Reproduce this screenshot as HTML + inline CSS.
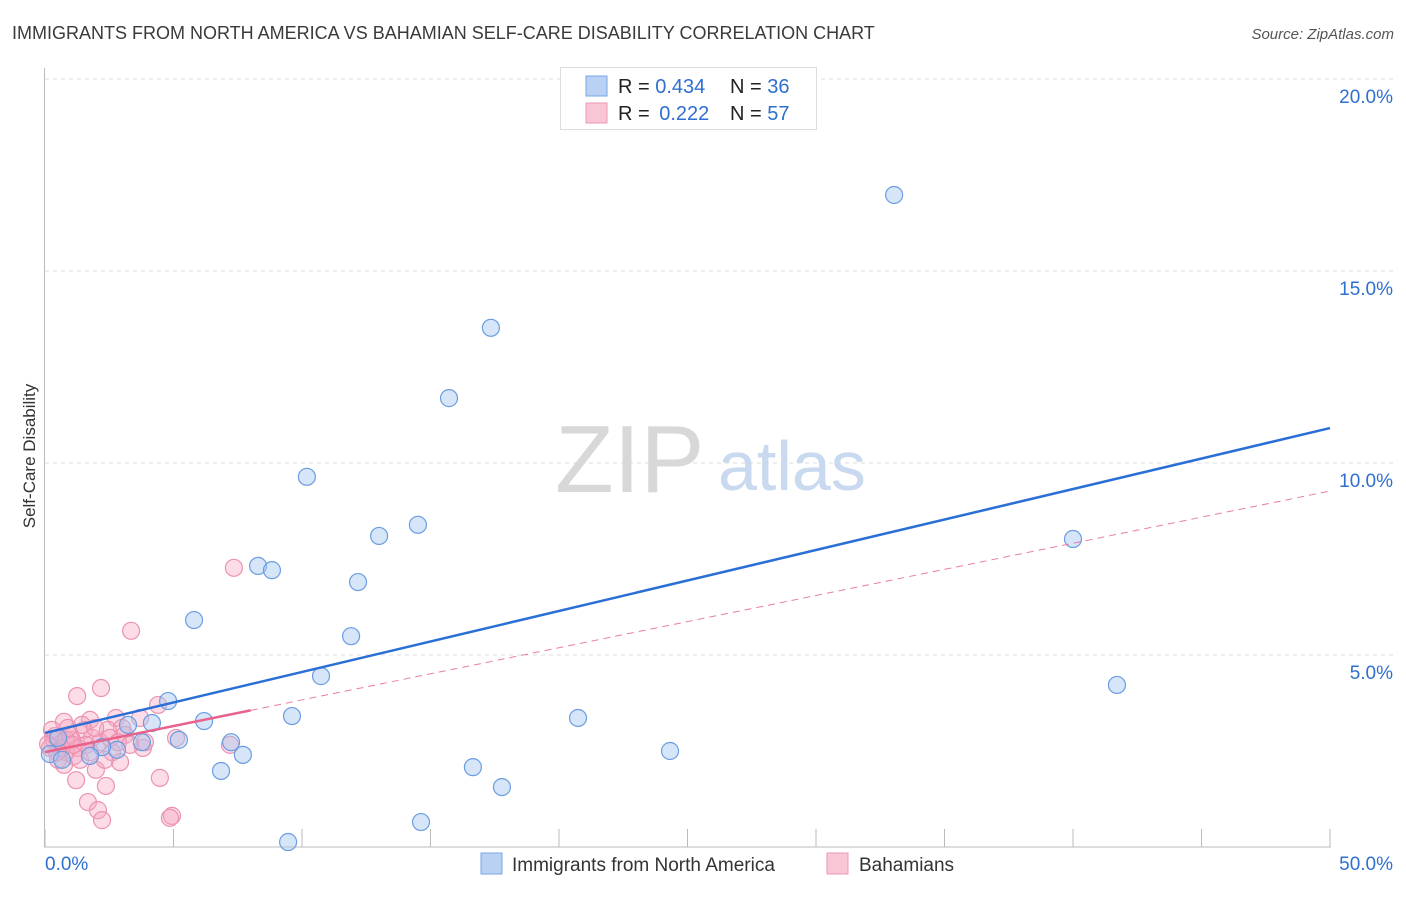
<!DOCTYPE html>
<html><head><meta charset="utf-8"><style>
body{margin:0;background:#fff;font-family:"Liberation Sans",sans-serif;}
svg text{font-family:"Liberation Sans",sans-serif;}
</style></head><body>
<svg id="c" width="1406" height="892" xmlns="http://www.w3.org/2000/svg">
<text x="12" y="39" font-size="18" fill="#3a3a3a">IMMIGRANTS FROM NORTH AMERICA VS BAHAMIAN SELF-CARE DISABILITY CORRELATION CHART</text>
<text x="1394" y="39" font-size="15" fill="#555" font-style="italic" text-anchor="end">Source: ZipAtlas.com</text>
<g id="grid"></g>
<g id="axes"></g>
<text x="555" y="492" font-size="96" fill="#d8d8d8" font-family="Liberation Serif">ZIP</text>
<text x="718" y="490" font-size="70" fill="#c9d9ef">atlas</text>
<g id="pts"></g>
<g id="trends"></g>
<text x="35" y="456" font-size="17" fill="#333" text-anchor="middle" transform="rotate(-90 35 456)">Self-Care Disability</text>
<g>
<rect x="560.5" y="67.5" width="256" height="62" fill="#fff" stroke="#ddd"/>
<rect x="586" y="76" width="21" height="20" fill="#b9d2f3" stroke="#7aa6e6"/>
<rect x="586" y="103" width="21" height="20" fill="#f8c6d5" stroke="#ec9ab3"/>
<text x="618" y="93" font-size="20" fill="#222">R = <tspan fill="#2f6fd0">0.434</tspan></text>
<text x="730" y="93" font-size="20" fill="#222">N = <tspan fill="#2f6fd0">36</tspan></text>
<text x="618" y="120" font-size="20" fill="#222">R = <tspan fill="#2f6fd0" dx="4">0.222</tspan></text>
<text x="730" y="120" font-size="20" fill="#222">N = <tspan fill="#2f6fd0">57</tspan></text>
</g>
<g>
<rect x="481" y="853" width="21" height="21" fill="#b9d2f3" stroke="#7aa6e6"/>
<text x="512" y="871" font-size="19" fill="#333">Immigrants from North America</text>
<rect x="827" y="853" width="21" height="21" fill="#f8c6d5" stroke="#ec9ab3"/>
<text x="859" y="871" font-size="19" fill="#333">Bahamians</text>
</g>
</svg>
<script>
const xTicks=[0,5,10,15,20,25,30,35,40,45,50];
const yTicks=[5,10,15,20];
const yTickLabels=["5.0%","10.0%","15.0%","20.0%"];
const xEndLabels=["0.0%","50.0%"];
const blueX=[33.04,17.35,15.72,10.19,14.51,13.0,8.29,8.83,12.18,5.8,11.91,10.74,40.0,41.71,4.79,9.61,20.74,6.19,4.16,3.23,5.21,7.24,3.77,24.32,7.7,2.8,2.22,0.51,0.19,0.66,6.85,16.65,17.78,14.63,9.46,1.75];
const blueY=[16.98,13.52,11.69,9.64,8.39,8.1,7.32,7.21,6.9,5.91,5.49,4.45,8.02,4.22,3.8,3.41,3.36,3.28,3.23,3.18,2.79,2.73,2.73,2.5,2.4,2.53,2.6,2.84,2.42,2.27,1.98,2.08,1.56,0.65,0.13,2.37];
const pinkX=[7.35,3.35,2.18,1.25,4.4,0.74,1.75,2.76,3.0,2.45,3.7,1.52,1.05,0.58,0.19,0.39,0.82,1.28,1.83,2.14,2.61,2.92,1.98,1.21,2.37,4.47,1.67,2.06,2.22,4.94,4.86,3.81,5.1,7.2,0.74,0.35,0.12,0.97,1.44,0.51,0.82,1.13,1.6,1.95,2.53,3.11,3.89,0.66,0.27,1.36,0.89,2.33,1.75,0.47,1.09,2.84,3.31];
const pinkY=[7.27,5.63,4.14,3.93,3.7,3.26,3.31,3.36,3.1,3.05,3.36,3.05,2.79,2.66,2.58,2.89,2.47,2.58,2.84,2.73,2.47,2.21,2.01,1.74,1.59,1.8,1.17,0.96,0.7,0.81,0.76,2.58,2.84,2.66,2.14,2.79,2.68,2.92,3.18,2.27,2.79,2.37,2.66,3.1,2.84,2.92,2.73,2.58,3.05,2.27,3.1,2.27,2.47,2.47,2.66,2.73,2.66];
const blueTrend=[2.97,10.91]; // y at x=0 and x=50
const pinkTrend=[2.47,9.27];
const pinkSolidEnd=8;
const NS="http://www.w3.org/2000/svg";
const sx=v=>45+v*25.7, sy=v=>847-v*38.4;
function mk(tag,attrs,parent){const e=document.createElementNS(NS,tag);for(const k in attrs)e.setAttribute(k,attrs[k]);parent.appendChild(e);return e;}
const grid=document.getElementById('grid'),axes=document.getElementById('axes');
yTicks.forEach((t,i)=>{
 const l=mk('line',{x1:45,x2:1394,y1:sy(t),y2:sy(t),stroke:'#ddd','stroke-dasharray':'4,4'},grid);
 
 
 const tx=mk('text',{x:1393,y:sy(t)+24,'font-size':19,fill:'#2f6fd0','text-anchor':'end'},axes);
 tx.textContent=yTickLabels[i];
 
 
});
const gtop=mk('line',{x1:45,x2:1394,y1:sy(20),y2:sy(20),stroke:'#ddd','stroke-dasharray':'4,4'},grid);


const ax=mk('line',{x1:44.5,x2:44.5,y1:68,y2:847,stroke:'#bbb'},axes);


const bx=mk('line',{x1:44,x2:1331,y1:847,y2:847,stroke:'#bbb'},axes);


xTicks.forEach(t=>{
 const l=mk('line',{x1:sx(t),x2:sx(t),y1:829,y2:847,stroke:'#bbb'},axes);
 
 
});
[[0,'start',45],[50,'end',1393]].forEach((d,i)=>{
 const tx=mk('text',{x:d[2],y:870,'font-size':19,fill:'#2f6fd0','text-anchor':d[1]},axes);
 tx.textContent=xEndLabels[i];
 
 
});
const pts=document.getElementById('pts');
pinkX.forEach((x,i)=>{
 const c=mk('circle',{cx:sx(x),cy:sy(pinkY[i]),r:8.5,fill:'rgba(246,168,194,0.4)',stroke:'#ec93b0','stroke-width':1.2},pts);
 
 
});
blueX.forEach((x,i)=>{
 const c=mk('circle',{cx:sx(x),cy:sy(blueY[i]),r:8.5,fill:'rgba(164,198,240,0.45)',stroke:'#6b9de2','stroke-width':1.2},pts);
 
 
});
const tr=document.getElementById('trends');
const pAt=x=>pinkTrend[0]+(pinkTrend[1]-pinkTrend[0])*x/50;
const pd=mk('line',{x1:sx(pinkSolidEnd),y1:sy(pAt(pinkSolidEnd)),x2:sx(50),y2:sy(pinkTrend[1]),stroke:'#e87fa2','stroke-width':1,'stroke-dasharray':'7,5'},tr);


const ps=mk('line',{x1:sx(0),y1:sy(pinkTrend[0]),x2:sx(pinkSolidEnd),y2:sy(pAt(pinkSolidEnd)),stroke:'#e8628c','stroke-width':2.5},tr);


const bl=mk('line',{x1:sx(0),y1:sy(blueTrend[0]),x2:sx(50),y2:sy(blueTrend[1]),stroke:'#2a6fd6','stroke-width':2.5},tr);


</script>
</body></html>
